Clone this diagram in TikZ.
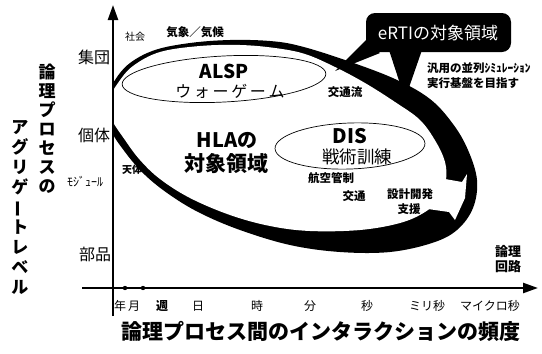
\documentclass[tikz,border=0pt]{standalone}
\usepackage{fontspec}
\newfontfamily\jp{Noto Sans CJK JP}
\usetikzlibrary{arrows.meta}
\begin{document}
\begin{tikzpicture}[x=1pt,y=-1pt,
  lbl/.style={inner sep=0pt, font=\jp\fontsize{#1}{#1}\selectfont},
  blbl/.style={inner sep=0pt, font=\jp\bfseries\fontsize{#1}{#1}\selectfont},
  axis/.style={line width=2.4pt, -{Triangle[length=15pt,width=10pt]}},
  thin/.style={line width=0.7pt},
]
\useasboundingbox (0,0) rectangle (542,354);
\fill[white] (0,0) rectangle (542,354);

% eRTI region (black) and HLA region (white)
\begin{scope}
\clip (113,0) rectangle (542,354);
\fill[black] plot[smooth cycle, tension=0.6] coordinates {
 (106,100) (115,80) (130,63) (155,50) (190,43) (230,40) (270,41) (300,46)
 (345,60) (395,79) (430,99) (453,124) (468,150) (477,180) (473,208)
 (457,230) (432,243) (390,252) (340,252) (290,245) (240,230) (200,213)
 (170,195) (145,175) (125,152) (110,128)};
\fill[white] plot[smooth cycle, tension=0.6] coordinates {
 (109,100) (118,83) (133,66) (160,52) (200,46) (240,45) (275,48) (305,54)
 (335,67) (365,83) (395,102) (420,120) (436,142) (445,162) (446,180)
 (440,198) (425,212) (400,223) (360,230) (310,231) (270,226) (230,215)
 (190,198) (160,179) (140,160) (125,140) (111,118)};
\fill[white] (428,176) -- (462,182) -- (467,174) -- (465,198) -- (455,220)
 -- (449,212) -- (428,209) -- cycle;
\end{scope}

% ALSP and DIS ellipses
\draw[thin, rotate around={3:(224,79)}] (224,79) ellipse [x radius=102, y radius=23];
\draw[thin, rotate around={2:(350,146)}] (350,146) ellipse [x radius=75, y radius=23];

% axes
\coordinate (yb) at (113,316);
\coordinate (yt) at (113,5);
\coordinate (xl) at (82,288);
\coordinate (xr) at (538,288);
\draw[axis] (yb) -- (yt);
\draw[axis] (xl) -- (xr);
\fill (125,288) circle (2.2);
\fill (143,288) circle (2.2);

% y labels
\node[lbl=16] (shudan) at (94,57) {集団};
\node[lbl=16] (kotai) at (94,135) {個体};
\node[lbl=12] (module) at (85,182) {ﾓｼﾞｭｰﾙ};
\node[lbl=16] (buhin) at (95,254) {部品};

% x labels
\node[lbl=12] (nen) at (120,306) {年};
\node[lbl=12] (tsuki) at (134,306) {月};
\node[blbl=12] (shu) at (162,306) {週};
\node[lbl=12] (hi) at (198,306) {日};
\node[lbl=12] (ji) at (257,306) {時};
\node[lbl=12] (fun) at (310,306) {分};
\node[lbl=12] (byo) at (367,306) {秒};
\node[lbl=12] (mili) at (427,306) {ミリ秒};
\node[lbl=12] (micro) at (490,306) {マイクロ秒};

% axis titles
\node[blbl=21] (xtitle) at (321,331) {論理プロセス間のインタラクションの頻度};
\node[inner sep=0pt, align=center, font=\jp\bfseries\fontsize{17}{19}\selectfont] (ycolR) at (47,128.5)
 {論\\理\\プ\\ロ\\セ\\ス\\の};
\node[inner sep=0pt, align=center, font=\jp\bfseries\fontsize{17}{19.9}\selectfont] (ycolL) at (20,207.5)
 {ア\\グ\\リ\\ゲ\\\rotatebox[origin=c]{90}{ー}\\ト\\レ\\ベ\\ル};

% inner labels
\node[lbl=10] (shakai) at (135,37) {社会};
\node[blbl=11.5] (kisho) at (195,32) {気象／気候};
\node[blbl=10] (tentai) at (132,170) {天体};
\node[blbl=19] (alsp) at (224,71) {ALSP};
\node[lbl=16] (wargame) at (230,91) {ウ\,ォ\,ー\,ゲ\,ー\,ム};
\node[blbl=20] (hla) at (227,140) {HLAの};
\node[blbl=21] (hla2) at (226,164) {対象領域};
\node[blbl=20] (dis) at (350,136) {DIS};
\node[lbl=17.5] (senjutsu) at (357,157) {戦術訓練};
\node[blbl=11.5] (kotsuryu) at (345,92) {交通流};
\node[blbl=11.5] (koku) at (331,178) {航空管制};
\node[blbl=11.5] (kotsu) at (354,196) {交通};
\node[blbl=11.5] (sekkei) at (410,194) {設計開発};
\node[blbl=11.5] (shien) at (409,209) {支援};
\node[blbl=13] (ronri) at (508,252) {論理};
\node[blbl=13] (kairo) at (508,267) {回路};

% eRTI bubble
\fill[black] (335,71) -- (366,40) -- (380,53) -- cycle;
\fill[black] (405,99) -- (389,50) -- (422,50) -- cycle;
\fill[black, rounded corners=9pt] (366,13) rectangle (511,52);
\node[lbl=17, text=white] (erti) at (438,33) {eRTIの対象領域};
\node[blbl=11.5, anchor=west] (hanyo) at (427,68) {汎用の並列ｼﾐｭﾚｰｼｮﾝ};
\node[blbl=11.5, anchor=west] (jikko) at (427,83) {実行基盤を目指す};
\end{tikzpicture}
\end{document}
